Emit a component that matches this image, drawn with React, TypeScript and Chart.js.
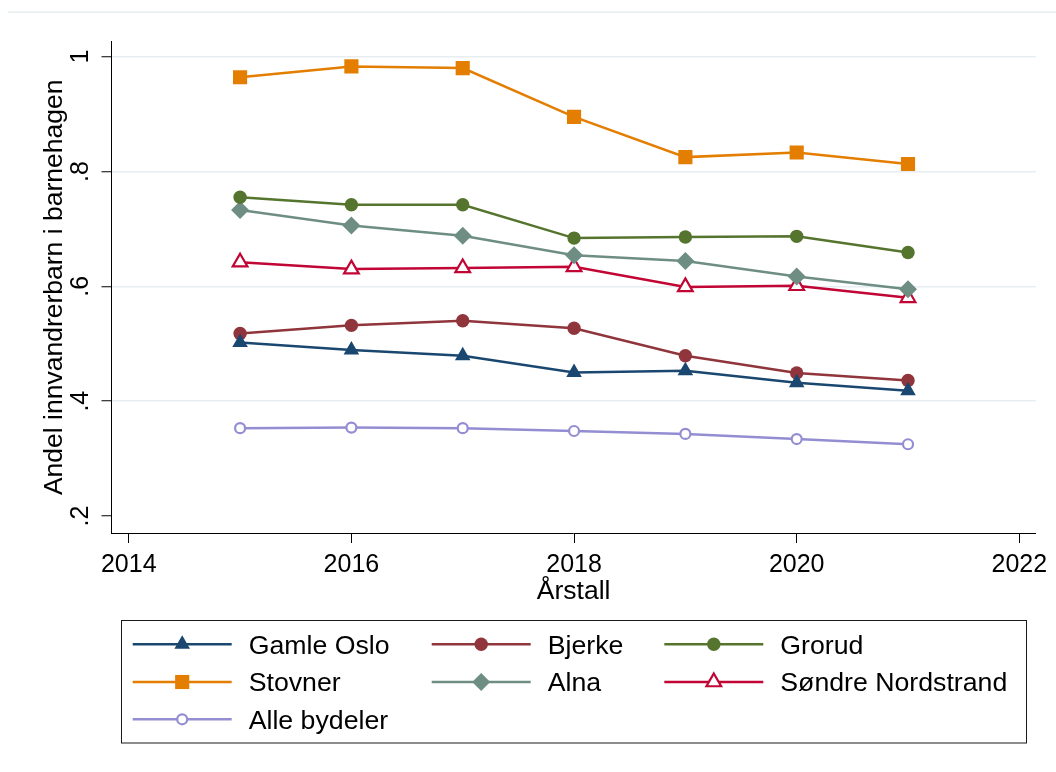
import React, { useEffect, useRef } from 'react';
import { Chart, registerables } from 'chart.js';

Chart.register(...registerables);

// ---- Data ----
const years = [2015, 2016, 2017, 2018, 2019, 2020, 2021];
const gamleOslo = [0.502, 0.489, 0.479, 0.45, 0.453, 0.432, 0.418];
const bjerke = [0.518, 0.532, 0.54, 0.527, 0.479, 0.449, 0.436];
const grorud = [0.755, 0.742, 0.742, 0.684, 0.686, 0.687, 0.659];
const stovner = [0.964, 0.983, 0.98, 0.895, 0.825, 0.833, 0.813];
const alna = [0.733, 0.706, 0.688, 0.654, 0.644, 0.617, 0.595];
const sondreNordstrand = [0.642, 0.63, 0.632, 0.634, 0.599, 0.601, 0.58];
const alleBydeler = [0.353, 0.354, 0.353, 0.348, 0.343, 0.334, 0.325];

const xTicks = [2014, 2016, 2018, 2020, 2022];
const yTicks = [0.2, 0.4, 0.6, 0.8, 1];
const yTickLabels = ['.2', '.4', '.6', '.8', '1'];
const xTitle = 'Årstall';
const yTitle = 'Andel innvandrerbarn i barnehagen';

const FONT = '"Liberation Sans", Arial, Helvetica, sans-serif';

type Series = {
  label: string;
  values: number[];
  color: string;
  style: string;
  radius: number;
  hollow: boolean;
};

const series: Series[] = [
  { label: 'Gamle Oslo', values: gamleOslo, color: '#1a476f', style: 'triangle', radius: 9, hollow: false },
  { label: 'Bjerke', values: bjerke, color: '#90353b', style: 'circle', radius: 6.7, hollow: false },
  { label: 'Grorud', values: grorud, color: '#55752f', style: 'circle', radius: 6.7, hollow: false },
  { label: 'Stovner', values: stovner, color: '#e37e00', style: 'rect', radius: 10, hollow: false },
  { label: 'Alna', values: alna, color: '#6e8e84', style: 'rectRot', radius: 9, hollow: false },
  { label: 'Søndre Nordstrand', values: sondreNordstrand, color: '#c10534', style: 'triangle', radius: 8.5, hollow: true },
  { label: 'Alle bydeler', values: alleBydeler, color: '#938dd2', style: 'circle', radius: 5, hollow: true },
];

function drawMarker(ctx: CanvasRenderingContext2D, s: Series, x: number, y: number) {
  const r = s.radius;
  ctx.beginPath();
  if (s.style === 'circle') {
    ctx.arc(x, y, r, 0, Math.PI * 2);
  } else if (s.style === 'rect') {
    const h = r * Math.SQRT1_2;
    ctx.rect(x - h, y - h, 2 * h, 2 * h);
  } else if (s.style === 'rectRot') {
    ctx.moveTo(x, y - r);
    ctx.lineTo(x + r, y);
    ctx.lineTo(x, y + r);
    ctx.lineTo(x - r, y);
    ctx.closePath();
  } else if (s.style === 'triangle') {
    for (let k = 0; k < 3; k++) {
      const a = (k * 2 * Math.PI) / 3;
      const px = x + Math.sin(a) * r;
      const py = y - Math.cos(a) * r;
      if (k === 0) ctx.moveTo(px, py);
      else ctx.lineTo(px, py);
    }
    ctx.closePath();
  }
  ctx.fillStyle = s.hollow ? '#ffffff' : s.color;
  ctx.fill();
  if (s.hollow) {
    ctx.lineWidth = 2.2;
    ctx.strokeStyle = s.color;
    ctx.stroke();
  }
}

const decorPlugin = {
  id: 'decor',
  beforeDraw(chart: any) {
    const ctx = chart.ctx as CanvasRenderingContext2D;
    ctx.save();
    ctx.fillStyle = '#e6eef0';
    ctx.fillRect(8, 11.5, 1048, 1.5);
    ctx.restore();
  },
  afterDraw(chart: any) {
    const ctx = chart.ctx as CanvasRenderingContext2D;
    const ys = chart.scales.y;
    ctx.save();
    // rotated y tick labels
    ctx.fillStyle = '#000';
    ctx.font = `25px ${FONT}`;
    ctx.textAlign = 'center';
    ctx.textBaseline = 'middle';
    yTicks.forEach((v, i) => {
      const py = ys.getPixelForValue(v);
      ctx.save();
      ctx.translate(81, py);
      ctx.rotate(-Math.PI / 2);
      ctx.fillText(yTickLabels[i], 0, 0);
      ctx.restore();
    });

    // legend
    const boxL = 121.5, boxT = 620.5, boxW = 905, boxH = 122.5;
    ctx.strokeStyle = '#1a1a1a';
    ctx.lineWidth = 1;
    ctx.strokeRect(boxL, boxT, boxW, boxH);
    const colX = [132.7, 431.7, 664.3];
    const rowY = [644.3, 682, 719.3];
    ctx.font = `26.7px ${FONT}`;
    ctx.textAlign = 'left';
    ctx.textBaseline = 'middle';
    series.forEach((s, i) => {
      const cx = colX[i % 3];
      const cy = rowY[Math.floor(i / 3)];
      ctx.beginPath();
      ctx.strokeStyle = s.color;
      ctx.lineWidth = 2.5;
      ctx.moveTo(cx, cy);
      ctx.lineTo(cx + 99, cy);
      ctx.stroke();
      drawMarker(ctx, s, cx + 49.5, cy);
      ctx.fillStyle = '#000';
      ctx.fillText(s.label, cx + 116, cy + 2);
    });
    ctx.restore();
  },
};

export default function App() {
  const canvasRef = useRef<HTMLCanvasElement | null>(null);

  useEffect(() => {
    document.body.style.margin = '0';
    const canvas = canvasRef.current;
    if (!canvas) return;
    const chart = new Chart(canvas, {
      type: 'line',
      data: {
        datasets: series.map((s) => ({
          label: s.label,
          data: years.map((yr, i) => ({ x: yr, y: s.values[i] })),
          borderColor: s.color,
          backgroundColor: s.hollow ? '#ffffff' : s.color,
          borderWidth: 2.5,
          tension: 0,
          fill: false,
          pointStyle: s.style as any,
          pointRadius: s.radius,
          pointHoverRadius: s.radius,
          pointBackgroundColor: s.hollow ? '#ffffff' : s.color,
          pointBorderColor: s.color,
          pointBorderWidth: s.hollow ? 2.2 : 0,
        })),
      },
      options: {
        animation: false,
        responsive: false,
        devicePixelRatio: 1,
        layout: { padding: { left: 0, right: 20.3, top: 41.7, bottom: 166.75 } },
        plugins: {
          legend: { display: false },
          tooltip: { enabled: false },
        },
        scales: {
          x: {
            type: 'linear',
            min: 2013.845,
            max: 2022.147,
            afterBuildTicks: (scale: any) => {
              scale.ticks = xTicks.map((v) => ({ value: v }));
            },
            afterFit: (scale: any) => {
              scale.height = 72.25;
              scale.paddingLeft = 0;
              scale.paddingRight = 0;
            },
            ticks: {
              autoSkip: false,
              maxRotation: 0,
              minRotation: 0,
              padding: 10,
              color: '#000',
              font: { family: FONT, size: 25, lineHeight: 1 },
              callback: (v: any) => String(v),
            },
            grid: {
              drawOnChartArea: false,
              drawTicks: true,
              tickLength: 10,
              tickColor: '#000',
              tickWidth: 1,
            },
            border: { display: true, color: '#000', width: 1 },
            title: {
              display: true,
              text: xTitle,
              color: '#000',
              font: { family: FONT, size: 26.5, lineHeight: 1 },
              padding: { top: 0, bottom: 0 },
            },
          },
          y: {
            type: 'linear',
            min: 0.1704,
            max: 1.026,
            afterBuildTicks: (scale: any) => {
              scale.ticks = yTicks.map((v) => ({ value: v }));
            },
            afterFit: (scale: any) => {
              scale.width = 111.5;
              scale.paddingTop = 0;
              scale.paddingBottom = 0;
            },
            ticks: { display: false },
            grid: {
              color: (c: any) => (c.tick && Math.abs(c.tick.value - 0.2) < 1e-6 ? 'rgba(0,0,0,0)' : '#e6eef1'),
              lineWidth: 1.5,
              drawTicks: true,
              tickLength: 10,
              tickColor: '#000',
              tickWidth: 1,
            },
            border: { display: true, color: '#000', width: 1 },
            title: {
              display: true,
              text: yTitle,
              color: '#000',
              font: { family: FONT, size: 26.5, lineHeight: 1 },
              padding: { top: 41, bottom: 0 },
            },
          },
        },
      },
      plugins: [decorPlugin],
    });
    return () => chart.destroy();
  }, []);

  return (
    <div style={{ position: 'fixed', left: 0, top: 0, width: 1056, height: 772, background: '#fff' }}>
      <canvas ref={canvasRef} width={1056} height={772} style={{ display: 'block' }} />
    </div>
  );
}
